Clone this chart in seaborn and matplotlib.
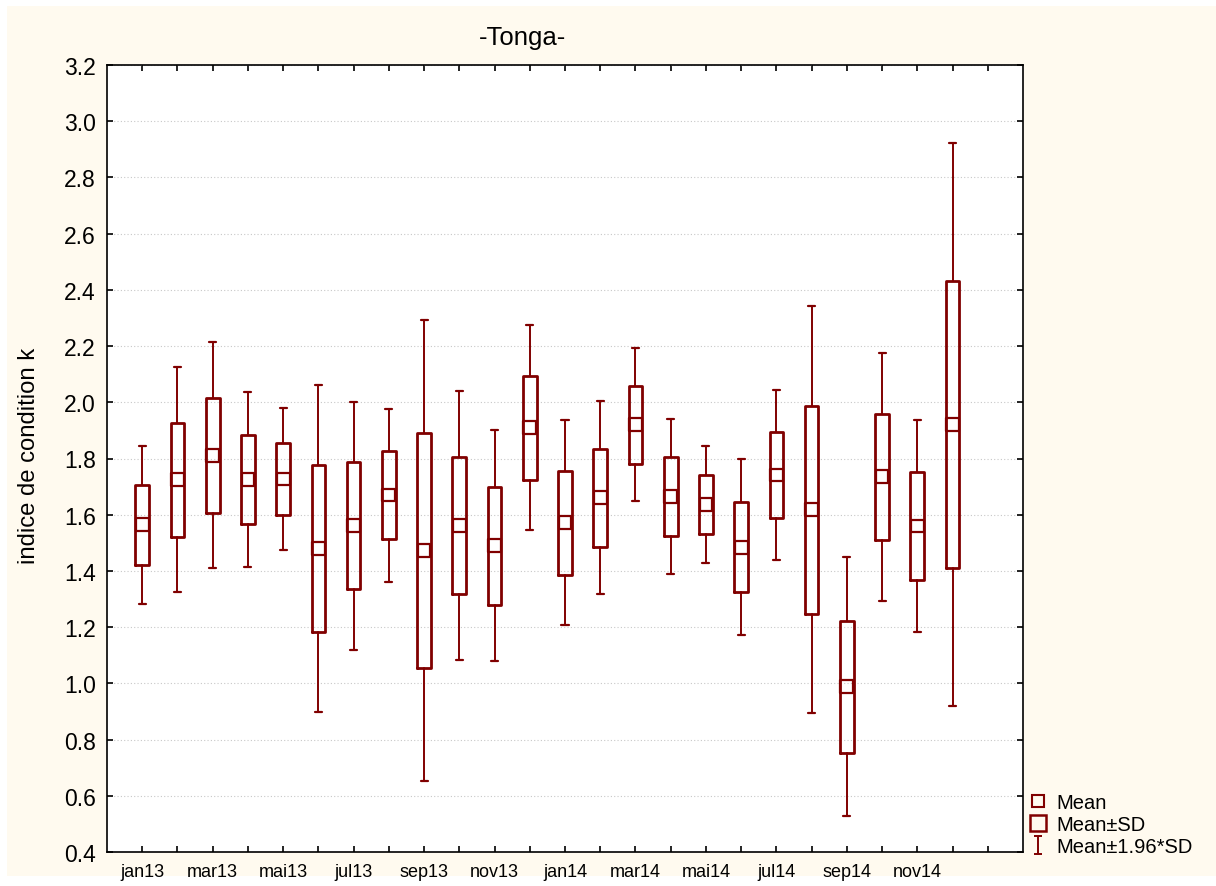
import numpy as np
import pandas as pd
import matplotlib
matplotlib.use("Agg")
import matplotlib.pyplot as plt
from matplotlib.lines import Line2D
from matplotlib.path import Path
from matplotlib.patches import Rectangle
import seaborn as sns

# ---- data ----
months = ["jan13", "fev13", "mar13", "avr13", "mai13", "jun13", "jul13", "aou13",
          "sep13", "oct13", "nov13", "dec13", "jan14", "fev14", "mar14", "avr14",
          "mai14", "jun14", "jul14", "aou14", "sep14", "oct14", "nov14", "dec14"]
mean_k = [1.564, 1.724, 1.812, 1.726, 1.727, 1.481, 1.561, 1.670,
          1.473, 1.562, 1.490, 1.909, 1.571, 1.660, 1.920, 1.665,
          1.637, 1.484, 1.741, 1.618, 0.988, 1.735, 1.560, 1.922]
sd_k = [0.143, 0.204, 0.205, 0.159, 0.129, 0.297, 0.225, 0.157,
        0.419, 0.244, 0.210, 0.186, 0.186, 0.175, 0.139, 0.141,
        0.106, 0.160, 0.154, 0.370, 0.235, 0.225, 0.193, 0.511]
tick_labels = ["jan13", "", "mar13", "", "mai13", "", "jul13", "", "sep13", "",
               "nov13", "", "jan14", "", "mar14", "", "mai14", "", "jul14", "",
               "sep14", "", "nov14", "", ""]
y_ticks = [0.4, 0.6, 0.8, 1.0, 1.2, 1.4, 1.6, 1.8, 2.0, 2.2, 2.4, 2.6, 2.8, 3.0, 3.2]

MAROON = "#800000"
CREAM = "#FFFAEF"

sns.set_theme(style="ticks")
plt.rcParams["font.family"] = ["Liberation Sans", "DejaVu Sans"]
plt.rcParams["text.color"] = "black"
plt.rcParams["axes.labelcolor"] = "black"
plt.rcParams["xtick.color"] = "black"
plt.rcParams["ytick.color"] = "black"

df = pd.DataFrame({"month": months, "pos": np.arange(len(months)),
                   "mean": mean_k, "sd": sd_k})

fig = plt.figure(figsize=(12.16, 8.87), dpi=100)
fig.patch.set_facecolor("white")
fig.patches.append(Rectangle((7 / 1216, 10 / 887), (1216 - 7) / 1216, (877 - 7) / 887,
                             transform=fig.transFigure, facecolor=CREAM,
                             edgecolor="none", zorder=-10))
ax = fig.add_axes([107 / 1216, 1 - 853 / 887, (1023 - 107) / 1216, (853 - 66) / 887])
ax.set_facecolor("white")

stats = []
for m, s in zip(df["mean"], df["sd"]):
    stats.append({"med": m, "q1": m - s, "q3": m + s,
                  "whislo": m - 1.96 * s, "whishi": m + 1.96 * s, "fliers": []})

ax.bxp(stats, positions=df["pos"].tolist(), widths=0.39, capwidths=0.2,
       showfliers=False, patch_artist=False,
       boxprops=dict(color=MAROON, linewidth=2.0),
       whiskerprops=dict(color=MAROON, linewidth=1.4),
       capprops=dict(color=MAROON, linewidth=1.6),
       medianprops=dict(linewidth=0), manage_ticks=False, zorder=3)

sns.scatterplot(data=df, x="pos", y="mean", marker="s", s=85,
                facecolor="none", edgecolor=MAROON, linewidth=1.6,
                ax=ax, zorder=4, legend=False)

ax.set_xlim(-1, 25)
ax.set_ylim(0.4, 3.2)
ax.set_xticks(np.arange(len(tick_labels)))
ax.set_xticklabels(tick_labels, fontsize=13)
ax.set_yticks(y_ticks)
ax.set_yticklabels([f"{v:.1f}" for v in y_ticks], fontsize=16.5)
ax.set_xlabel("")
ax.set_ylabel("")

ax.tick_params(axis="both", direction="in", top=True, right=True,
               length=4.5, width=1.2, color="black", labelcolor="black")
ax.tick_params(axis="y", pad=8)
ax.tick_params(axis="x", pad=8)
for sp in ax.spines.values():
    sp.set_visible(True)
    sp.set_color("black")
    sp.set_linewidth(1.2)

ax.yaxis.grid(True, linestyle=(0, (1, 2)), color="#c8c8c8", linewidth=0.8)
ax.xaxis.grid(False)
ax.set_axisbelow(True)

fig.text(523 / 1216, 1 - 38 / 887, "-Tonga-", ha="center", va="center",
         fontsize=18.5, color="black")
fig.text(29 / 1216, 1 - 456 / 887, "indice de condition k", ha="center",
         va="center", rotation=90, fontsize=17.2, color="black")

# legend
whisk_path = Path([(-0.45, 1), (0.45, 1), (0, 1), (0, -1), (-0.45, -1), (0.45, -1)],
                  [Path.MOVETO, Path.LINETO, Path.MOVETO, Path.LINETO,
                   Path.MOVETO, Path.LINETO])
handles = [
    Line2D([], [], linestyle="none", marker="s", markersize=8,
           markerfacecolor="none", markeredgecolor=MAROON, markeredgewidth=1.5),
    Line2D([], [], linestyle="none", marker="s", markersize=11,
           markerfacecolor="none", markeredgecolor=MAROON, markeredgewidth=1.8),
    Line2D([], [], linestyle="none", marker=whisk_path, markersize=13,
           markerfacecolor="none", markeredgecolor=MAROON, markeredgewidth=1.4),
]
labels = ["Mean", "Mean\u00b1SD", "Mean\u00b11.96*SD"]
fig.legend(handles, labels, loc="lower left",
           bbox_to_anchor=(1028 / 1216, 1 - 857 / 887), frameon=False,
           handlelength=1.0, handletextpad=0.4, labelspacing=0.15,
           borderaxespad=0, borderpad=0, fontsize=14.5, labelcolor="black")

fig.savefig("out.png", dpi=100, facecolor=fig.get_facecolor())
